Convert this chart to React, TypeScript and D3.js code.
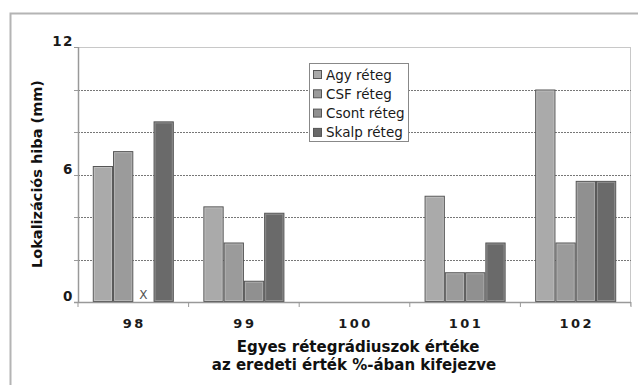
import React from "react";
import * as d3 from "d3";

const categories = ["98", "99", "100", "101", "102"];
const seriesNames = ["Agy réteg", "CSF réteg", "Csont réteg", "Skalp réteg"];
const agy: (number | null)[] = [6.4, 4.5, null, 5.0, 10.0];
const csf: (number | null)[] = [7.1, 2.8, null, 1.4, 2.8];
const csont: (number | null)[] = [null, 1.0, null, 1.4, 5.7];
const skalp: (number | null)[] = [8.5, 4.2, null, 2.8, 5.7];
const yTickLabels = [0, 6, 12];
const yGridValues = [2, 4, 6, 8, 10];
const missingMarks = [{ category: "98", series: "Csont réteg", label: "X" }];
const yTitle = "Lokalizációs hiba (mm)";
const xTitle1 = "Egyes rétegrádiuszok értéke";
const xTitle2 = "az eredeti érték %-ában kifejezve";

const colors = ["#aaaaaa", "#9b9b9b", "#909090", "#6a6a6a"];
const FONT = "'DejaVu Sans', Verdana, sans-serif";

export default function App() {
  const seriesValues = [agy, csf, csont, skalp];
  const left = 78, right = 631, top = 47, bottom = 302;
  const x0 = d3.scaleBand<string>().domain(categories).range([left, right]).paddingInner(0).paddingOuter(0);
  const x1 = d3.scaleBand<string>().domain(seriesNames).range([0, x0.bandwidth()]).paddingInner(0).paddingOuter(0.73);
  const y = d3.scaleLinear().domain([0, 12]).range([bottom, top]);

  return (
    <svg width={638} height={385} style={{ position: "absolute", left: 0, top: 0, background: "#fff" }} fontFamily={FONT}>
      <rect x={10.5} y={13.5} width={700} height={500} fill="#fff" stroke="#b4b4b4" strokeWidth={2} />
      {/* plot frame top/right */}
      <line x1={left} x2={right} y1={top + 0.5} y2={top + 0.5} stroke="#c8c8c8" />
      <line x1={right - 0.5} x2={right - 0.5} y1={top} y2={bottom + 4} stroke="#c8c8c8" />
      {/* grid */}
      {yGridValues.map((v) => (
        <line key={v} x1={left} x2={right} y1={Math.round(y(v)) + 0.5} y2={Math.round(y(v)) + 0.5}
          stroke="#777" strokeDasharray="2,1" strokeWidth={1} />
      ))}
      {/* y ticks */}
      {[...yGridValues, 0, 12].map((v) => (
        <line key={"t" + v} x1={left - 4} x2={left} y1={Math.round(y(v)) + 0.5} y2={Math.round(y(v)) + 0.5} stroke="#999" />
      ))}
      {/* bars */}
      {categories.map((c, ci) =>
        seriesNames.map((s, si) => {
          const v = seriesValues[si][ci];
          if (v == null) return null;
          const bx = (x0(c) as number) + (x1(s) as number);
          return (
            <g key={c + s}>
              <rect x={bx + 0.5} y={y(v) + 0.5} width={x1.bandwidth() - 1} height={bottom - y(v) - 1}
                fill={colors[si]} stroke="#555" strokeWidth={1} />
              <rect x={bx + 1.5} y={y(v) + 1.5} width={Math.max(0, x1.bandwidth() - 3)} height={Math.max(0, bottom - y(v) - 3)}
                fill="none" stroke="#ffffff" strokeOpacity={0.25} strokeWidth={1} />
            </g>
          );
        })
      )}
      {missingMarks.map((m) => (
        <text key={m.category + m.series} x={(x0(m.category) as number) + (x1(m.series) as number) + x1.bandwidth() / 2}
          y={bottom - 3} textAnchor="middle" fontSize={12} fill="#555">{m.label}</text>
      ))}
      {/* axes */}
      <line x1={left + 0.5} x2={left + 0.5} y1={top} y2={bottom} stroke="#999" strokeWidth={1.5} />
      <line x1={left - 4} x2={right} y1={bottom + 0.5} y2={bottom + 0.5} stroke="#999" strokeWidth={1.5} />
      {[...categories.map((c) => x0(c) as number), right].map((tx, i) => (
        <line key={"xt" + i} x1={tx} x2={tx} y1={bottom} y2={bottom + 5} stroke="#999" />
      ))}
      {yTickLabels.map((v) => (
        <text key={"yl" + v} x={74} y={y(v) - 1} textAnchor="end" fontSize={13.5} fontWeight="bold" letterSpacing={1.5} fill="#1a1a1a">{v}</text>
      ))}
      {categories.map((c) => (
        <text key={"xl" + c} x={(x0(c) as number) + x0.bandwidth() / 2 + 1} y={328} textAnchor="middle" fontSize={13}
          fontWeight="bold" letterSpacing={2.5} fill="#1a1a1a">{c}</text>
      ))}
      <text transform={`translate(42,174) rotate(-90)`} textAnchor="middle" fontSize={14.5} fontWeight="bold" fill="#111">{yTitle}</text>
      <text x={358} y={352} textAnchor="middle" fontSize={15} fontWeight="bold" fill="#111">{xTitle1}</text>
      <text x={354} y={370} textAnchor="middle" fontSize={15} fontWeight="bold" fill="#111">{xTitle2}</text>
      {/* legend */}
      <rect x={309.5} y={63.5} width={99} height={78} fill="#fff" stroke="#888" />
      {seriesNames.map((s, i) => (
        <g key={"lg" + s} transform={`translate(313,${75 + i * 19.3})`}>
          <rect x={0.5} y={-4.5} width={8} height={8} fill={colors[i]} stroke="#555" />
          <text x={13} y={4.5} fontSize={13.5} fill="#1a1a1a">{s}</text>
        </g>
      ))}
    </svg>
  );
}
